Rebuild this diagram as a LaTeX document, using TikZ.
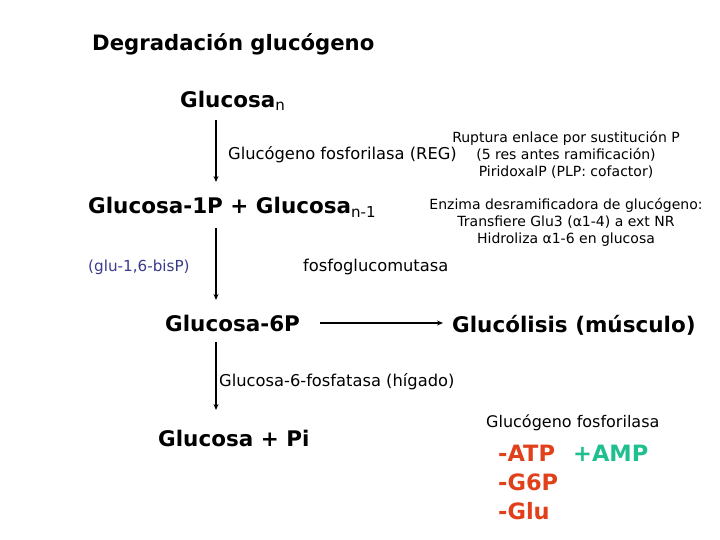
\documentclass[tikz,border=0pt]{standalone}
\usepackage{fontspec}
\setmainfont{DejaVu Sans}
\usetikzlibrary{arrows.meta}
\definecolor{bluetxt}{HTML}{3A3A8C}
\definecolor{redtxt}{HTML}{E0401A}
\definecolor{teal}{HTML}{1FBF8F}
\tikzset{
  big/.style={font=\fontsize{21.5}{24}\selectfont\bfseries, inner sep=0pt, anchor=west},
  small/.style={font=\fontsize{16.3}{18}\selectfont, inner sep=0pt, anchor=west},
  note/.style={font=\fontsize{14}{17}\selectfont, inner sep=0pt, align=center},
  conn/.style={line width=1.2pt, -{Stealth[length=6pt,width=5pt]}},
}
\begin{document}
\begin{tikzpicture}[x=1pt,y=-1pt]
\useasboundingbox (0,0) rectangle (720,540);
\node[big, font=\fontsize{21.2}{24}\selectfont\bfseries] (title) at (92,44) {Degradación glucógeno};
\node[big] (gn) at (180,101) {Glucosa\textsubscript{\mdseries n}};
\coordinate (a1s) at (216,120);
\coordinate (a1e) at (216,182);
\draw[conn] (a1s) -- (a1e);
\node[small] (gf) at (228,155) {Glucógeno fosforilasa (REG)};
\node[note] (rup) at (566,155) {Ruptura enlace por sustitución P\\(5 res antes ramificación)\\PiridoxalP (PLP: cofactor)};
\node[big] (g1p) at (88,207) {Glucosa-1P + Glucosa\textsubscript{\mdseries n-1}};
\node[note] (enz) at (566,222) {Enzima desramificadora de glucógeno:\\Transfiere Glu3 (α1-4) a ext NR\\Hidroliza α1-6 en glucosa};
\coordinate (a2s) at (216,228);
\coordinate (a2e) at (216,300);
\draw[conn] (a2s) -- (a2e);
\node[small, font=\fontsize{15.2}{17}\selectfont, text=bluetxt] (bis) at (88,267) {(glu-1,6-bisP)};
\node[small] (fgm) at (303,267) {fosfoglucomutasa};
\node[big] (g6p) at (165,323) {Glucosa-6P};
\node[big] (gli) at (452,325) {Glucólisis (músculo)};
\coordinate (h1) at (320,323);
\coordinate (h2) at (443,323);
\draw[conn] (h1) -- (h2);
\coordinate (a3s) at (216,342);
\coordinate (a3e) at (216,410);
\draw[conn] (a3s) -- (a3e);
\node[small] (g6f) at (219,382) {Glucosa-6-fosfatasa (hígado)};
\node[big] (gpi) at (158,438) {Glucosa + Pi};
\node[small, font=\fontsize{16}{18}\selectfont] (gf2) at (486,423) {Glucógeno fosforilasa};
\node[big, font=\fontsize{22.5}{24}\selectfont\bfseries, text=redtxt] (atp) at (498,453) {-ATP};
\node[big, font=\fontsize{22.5}{24}\selectfont\bfseries, text=teal] (amp) at (573,453) {+AMP};
\node[big, font=\fontsize{22.5}{24}\selectfont\bfseries, text=redtxt] (g6) at (498,482) {-G6P};
\node[big, font=\fontsize{22.5}{24}\selectfont\bfseries, text=redtxt] (glu) at (498,511) {-Glu};
\end{tikzpicture}
\end{document}
